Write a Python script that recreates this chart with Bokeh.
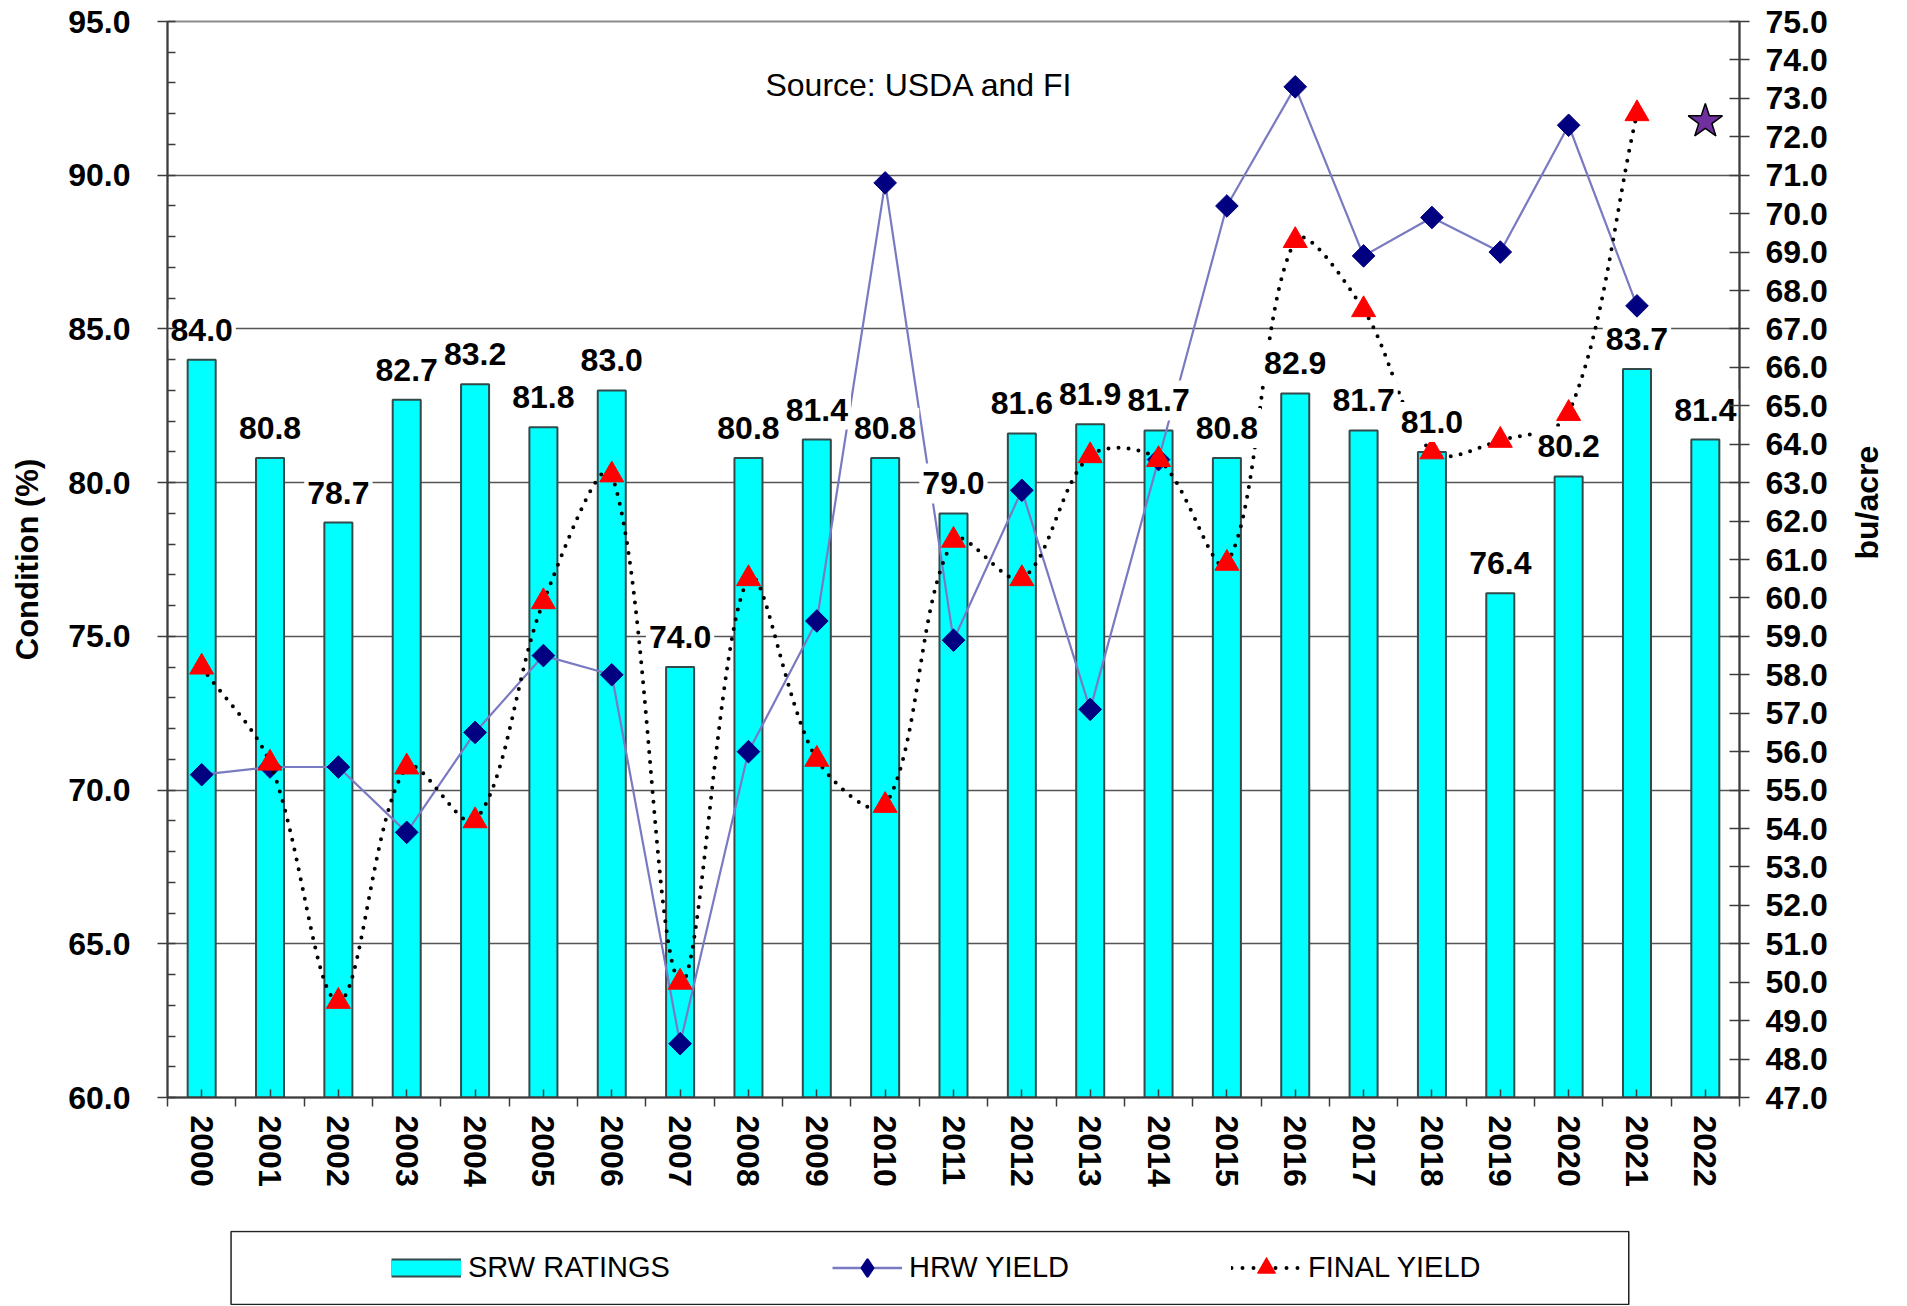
import math
from bokeh.plotting import figure
from bokeh.layouts import column
from bokeh.models import (Range1d, LinearAxis, FixedTicker, PrintfTickFormatter,
                          Label, Legend, LegendItem, ColumnDataSource)
from bokeh.core.properties import value
from bokeh.embed import file_html
from bokeh.resources import INLINE

# ---------------- data ----------------
years = ["2000", "2001", "2002", "2003", "2004", "2005", "2006", "2007", "2008",
         "2009", "2010", "2011", "2012", "2013", "2014", "2015", "2016", "2017",
         "2018", "2019", "2020", "2021", "2022"]
srw_ratings = [84.0, 80.8, 78.7, 82.7, 83.2, 81.8, 83.0, 74.0, 80.8, 81.4, 80.8, 79.0,
               81.6, 81.9, 81.7, 80.8, 82.9, 81.7, 81.0, 76.4, 80.2, 83.7, 81.4]
hrw_yield = [55.4, 55.6, 55.6, 53.9, 56.5, 58.5, 58.0, 48.4, 56.0, 59.4, 70.8, 58.9,
             62.8, 57.1, 63.6, 70.2, 73.3, 68.9, 69.9, 69.0, 72.3, 67.6, None]
final_yield = [58.2, 55.7, 49.5, 55.6, 54.2, 59.9, 63.2, 50.0, 60.5, 55.8, 54.6, 61.5,
               60.5, 63.7, 63.6, 60.9, 69.3, 67.5, 63.8, 64.1, 64.8, 72.6, None]
estimate_years = ["2022"]
estimate_yield = [72.4]
condition_ticks = [60, 65, 70, 75, 80, 85, 90, 95]
condition_minor = list(range(60, 96))
yield_ticks = list(range(47, 76))

FONT = "Liberation Sans"
nan = float("nan")
W = 1905
LEFT = 167
RIGHT = W - 1747
FRAME_W = W - LEFT - RIGHT
FRAME_H = 1076

xc = [i + 0.5 for i in range(len(years))]
hrw_vals = [nan if v is None else v for v in hrw_yield]
fin_vals = [nan if v is None else v for v in final_yield]

p = figure(width=W, height=1230, x_range=Range1d(0, len(years)), y_range=Range1d(60, 95),
           output_backend="svg", toolbar_location=None,
           min_border_left=LEFT, min_border_right=RIGHT, min_border_top=21,
           min_border_bottom=1230 - 21 - FRAME_H, background_fill_color="white",
           border_fill_color="white")
p.extra_y_ranges = {"yield": Range1d(47, 75)}
p.outline_line_color = "#8C8C8C"
p.outline_line_width = 2
p.xgrid.visible = False
p.ygrid.ticker = FixedTicker(ticks=condition_ticks)
p.ygrid.grid_line_color = "#555555"
p.ygrid.grid_line_width = 1.3


def style_axis(ax, size="32px"):
    ax.major_label_text_font = FONT
    ax.major_label_text_font_size = size
    ax.major_label_text_font_style = "bold"
    ax.major_label_text_color = "black"
    ax.axis_line_color = "#3C3C3C"
    ax.axis_line_width = 2
    ax.major_tick_line_color = "#3C3C3C"
    ax.major_tick_line_width = 1.5
    ax.minor_tick_line_color = "#3C3C3C"
    ax.minor_tick_line_width = 1.5
    ax.axis_label_text_font = FONT
    ax.axis_label_text_font_size = "31px"
    ax.axis_label_text_font_style = "bold"
    ax.axis_label_text_color = "black"


xa = p.xaxis[0]
xa.ticker = FixedTicker(ticks=xc, minor_ticks=list(range(len(years) + 1)))
xa.major_label_overrides = {x: y for x, y in zip(xc, years)}
xa.major_label_orientation = "vertical"
xa.major_tick_in = 8
xa.major_tick_out = 0
xa.minor_tick_in = 0
xa.minor_tick_out = 9
xa.major_label_standoff = 9
style_axis(xa, "32px")

ya = p.yaxis[0]
ya.ticker = FixedTicker(ticks=condition_ticks, minor_ticks=condition_minor)
ya.formatter = PrintfTickFormatter(format="%.1f")
ya.major_tick_in = 0
ya.major_tick_out = 10
ya.minor_tick_in = 8
ya.minor_tick_out = 0
ya.major_label_standoff = 27
ya.axis_label = "Condition (%)"
ya.axis_label_standoff = 20
style_axis(ya)

ra = LinearAxis(y_range_name="yield", ticker=FixedTicker(ticks=yield_ticks),
                formatter=PrintfTickFormatter(format="%.1f"))
ra.major_tick_in = 10
ra.major_tick_out = 10
ra.minor_tick_in = 0
ra.minor_tick_out = 0
ra.major_label_standoff = 16
ra.axis_label = "bu/acre"
ra.axis_label_standoff = 36
try:
    ra.axis_label_orientation = math.pi / 2
except Exception:
    pass
style_axis(ra)
ra.axis_label_text_font_size = "32px"
p.add_layout(ra, "right")

# ---------------- bars ----------------
bar_src = ColumnDataSource(dict(x=xc, top=srw_ratings, label=[f"{v:.1f}" for v in srw_ratings]))
p.vbar(x="x", top="top", bottom=60, width=0.41, source=bar_src,
       fill_color="#00FFFF", line_color="#34494A", line_width=2)

# ---------------- HRW yield ----------------
hrw_src = ColumnDataSource(dict(x=xc, y=hrw_vals))
p.line("x", "y", source=hrw_src, y_range_name="yield", line_color="#7A7AC2", line_width=2.2)
p.scatter("x", "y", source=hrw_src, y_range_name="yield", marker="square", angle=math.pi / 4,
          size=16, fill_color="#000080", line_color="#000080")

# ---------------- final yield (smoothed dotted line, spreadsheet-style) ----------------
pts = [(x, v) for x, v in zip(xc, final_yield) if v is not None]
fx = [a for a, _ in pts]
fy = [b for _, b in pts]
n = len(fx)
SX = FRAME_W / len(years)      # screen px per x unit
SY = FRAME_H / (75 - 47)       # screen px per bu/acre


def dist(i, j):
    return math.hypot((fx[j] - fx[i]) * SX, (fy[j] - fy[i]) * SY)


c_out, c_in = [], []
for i in range(n):
    a, b = max(i - 1, 0), min(i + 1, n - 1)
    tx, ty = fx[b] - fx[a], fy[b] - fy[a]
    dm, dp = dist(a, i), dist(i, b)
    tot = (dm + dp) or 1.0
    c_out.append((fx[i] + tx * dp / tot / 3, fy[i] + ty * dp / tot / 3))
    c_in.append((fx[i] - tx * dm / tot / 3, fy[i] - ty * dm / tot / 3))

seg = dict(
    x0=fx[:-1], y0=fy[:-1], x1=fx[1:], y1=fy[1:],
    cx0=[c_out[i][0] for i in range(n - 1)], cy0=[c_out[i][1] for i in range(n - 1)],
    cx1=[c_in[i + 1][0] for i in range(n - 1)], cy1=[c_in[i + 1][1] for i in range(n - 1)],
)
p.bezier(x0="x0", y0="y0", x1="x1", y1="y1", cx0="cx0", cy0="cy0", cx1="cx1", cy1="cy1",
         source=ColumnDataSource(seg), y_range_name="yield", line_color="black",
         line_width=4, line_dash="0 10", line_cap="round")
fin_src = ColumnDataSource(dict(x=xc, y=fin_vals))
p.scatter("x", "y", source=fin_src, y_range_name="yield", marker="triangle", size=24,
          fill_color="#FF0000", line_color="#FF0000")

# ---------------- bar value labels ----------------
p.text(x="x", y="top", text="label", source=bar_src, text_align="center",
       text_baseline="alphabetic", y_offset=-30, text_font=value(FONT),
       text_font_size="32px", text_font_style="bold", text_color="black",
       background_fill_color="white", padding=(3, 9))

# ---------------- estimate star ----------------
est_x = [xc[years.index(y)] for y in estimate_years]
p.scatter(est_x, estimate_yield, y_range_name="yield", marker="star", size=36,
          fill_color="#7030A0", line_color="black", line_width=1.5)

# ---------------- source note ----------------
p.add_layout(Label(x=11.0, y=92.95, text="Source: USDA and FI", text_align="center",
                   text_baseline="alphabetic", text_font=FONT, text_font_size="32px",
                   text_color="black"))

# ---------------- legend (boxed strip below the chart) ----------------
lp = figure(width=W, height=75, x_range=Range1d(0, len(years)), y_range=Range1d(0, 75),
            output_backend="svg", toolbar_location=None,
            x_axis_location=None, y_axis_location=None,
            min_border_left=LEFT, min_border_right=RIGHT, min_border_top=0,
            min_border_bottom=0, background_fill_color="white", border_fill_color="white")
lp.grid.visible = False
lp.outline_line_color = None
# legend frame box
lp.quad(left=[0.93], right=[21.38], bottom=[1], top=[74], fill_color=None,
        line_color="#222222", line_width=1.5)

# legend swatches: hidden renderers on the same data, drawn only by the legend
lg_b = lp.line(xc, srw_ratings, line_color="#34494A", line_width=19, line_cap="butt", visible=False)
lg_f = lp.line(xc, srw_ratings, line_color="#00FFFF", line_width=15, line_cap="butt", visible=False)
lg_hl = lp.line(xc, hrw_vals, line_color="#7A7AC2", line_width=2.5, visible=False)
lg_hm = lp.scatter(xc, hrw_vals, marker="diamond", fill_color="#000080",
                   line_color="#000080", line_width=2, visible=False)
lg_fl = lp.line(xc, fin_vals, line_color="black", line_width=4, line_dash="0 11",
                line_cap="round", visible=False)
lg_fm = lp.scatter(xc, fin_vals, marker="triangle", fill_color="#FF0000", line_color="#FF0000",
                   line_width=1, visible=False)

legend = Legend(items=[LegendItem(label="SRW RATINGS", renderers=[lg_b, lg_f]),
                       LegendItem(label="HRW YIELD", renderers=[lg_hl, lg_hm]),
                       LegendItem(label="FINAL YIELD", renderers=[lg_fl, lg_fm])],
                orientation="horizontal", location=(214, 5), spacing=162, padding=10,
                margin=0, glyph_width=70, glyph_height=45, label_standoff=7,
                label_text_font=FONT, label_text_font_size="29px", label_text_color="black",
                border_line_alpha=0, background_fill_alpha=0)
lp.add_layout(legend)

open("out.html", "w").write(file_html(column(p, lp), INLINE, "SRW ratings"))
